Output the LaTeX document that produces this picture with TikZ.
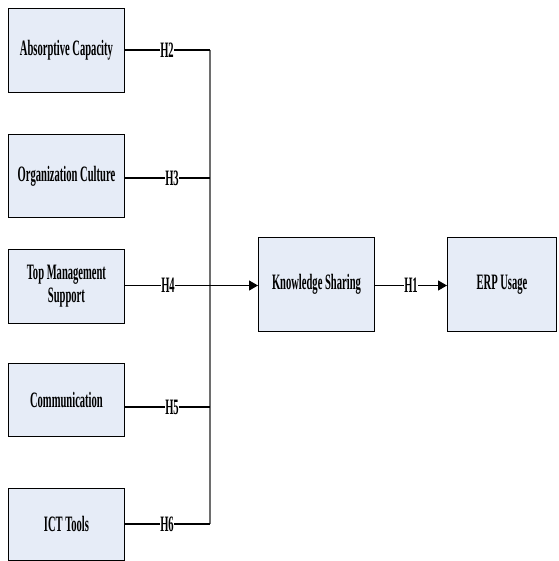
\documentclass[tikz,border=0pt]{standalone}
\usepackage{fontspec}
\setmainfont{Liberation Serif}
\newfontfamily\condfont[FakeStretch=0.48]{Liberation Serif Bold}
\usetikzlibrary{arrows.meta}
\definecolor{boxfill}{RGB}{230,236,247}
\definecolor{vline}{RGB}{110,110,110}
\tikzset{
  box/.style={draw=black, line width=0.9pt, fill=boxfill, minimum width=116pt, anchor=north west, inner sep=0pt, align=center, font=\condfont\fontsize{22pt}{23pt}\selectfont},
  lbl/.style={inner sep=0.5pt, font=\condfont\fontsize{22pt}{23pt}\selectfont},
  conn/.style={line width=1.1pt, black},
  arr/.style={conn, -{Triangle[length=9pt,width=10pt]}}
}
\begin{document}
\begin{tikzpicture}[x=1pt,y=-1pt]
\useasboundingbox (0,0) rectangle (558,561);
% left boxes
\node[box, minimum height=84pt] (ac) at (8,8) {Absorptive Capacity};
\node[box, minimum height=83pt] (oc) at (8,134) {Organization Culture};
\node[box, minimum height=74pt] (tm) at (8,249) {Top Management\\Support};
\node[box, minimum height=73pt] (cm) at (8,363) {Communication};
\node[box, minimum height=72pt] (ict) at (8,488) {ICT Tools};
% right boxes
\node[box, minimum width=116pt, minimum height=94pt] (ks) at (258,237) {Knowledge Sharing};
\node[box, minimum width=109pt, minimum height=94pt] (erp) at (447,237) {ERP Usage};
% labels
\node[lbl] (h2) at (167,50) {H2};
\node[lbl] (h3) at (172,178) {H3};
\node[lbl] (h4) at (168,285.5) {H4};
\node[lbl] (h5) at (172,407) {H5};
\node[lbl] (h6) at (167,524) {H6};
\node[lbl] (h1) at (411,285.5) {H1};
% junction coordinates
\coordinate (j2) at (210,50);
\coordinate (j3) at (210,178);
\coordinate (j4) at (210,285.5);
\coordinate (j5) at (210,407);
\coordinate (j6) at (210,524);
% vertical bus
\draw[line width=1.1pt, vline] (j2) -- (j6);
% connectors
\draw[conn] (ac.east |- h2) -- (h2.west);
\draw[conn] (h2.east) -- (j2);
\draw[conn] (oc.east |- h3) -- (h3.west);
\draw[conn] (h3.east) -- (j3);
\draw[conn] (tm.east |- h4) -- (h4.west);
\draw[arr] (h4.east) -- (ks.west |- h4);
\draw[conn] (cm.east |- h5) -- (h5.west);
\draw[conn] (h5.east) -- (j5);
\draw[conn] (ict.east |- h6) -- (h6.west);
\draw[conn] (h6.east) -- (j6);
\draw[conn] (ks.east |- h1) -- (h1.west);
\draw[arr] (h1.east) -- (erp.west |- h1);
\end{tikzpicture}
\end{document}
